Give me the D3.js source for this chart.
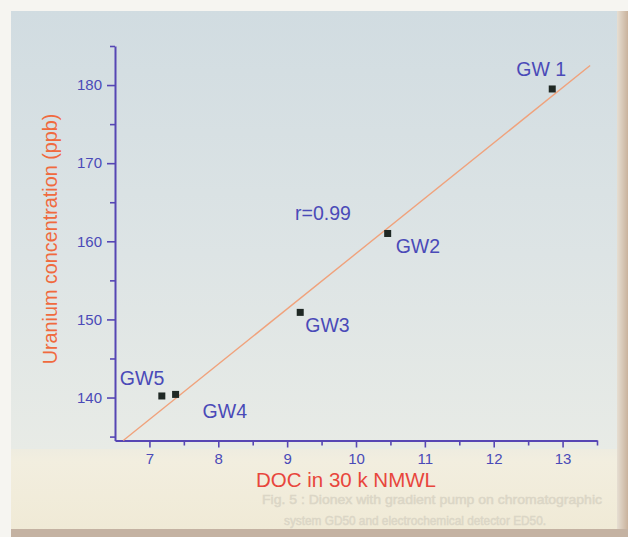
<!DOCTYPE html>
<html>
<head>
<meta charset="utf-8">
<script src="https://cdn.jsdelivr.net/npm/d3@7/dist/d3.min.js"></script>
<style>
  html, body { margin: 0; padding: 0; background: #f4f1ea; }
  svg { display: block; }
  text { font-family: "Liberation Sans", Arial, sans-serif; }
</style>
</head>
<body>
<svg id="chart" width="628" height="537"></svg>
<script>
// Groundwater samples: DOC (30 k NMWL fraction) vs uranium concentration
const sampleNames = ["GW 1", "GW2", "GW3", "GW4", "GW5"];
const docValues = [12.85, 10.46, 9.19, 7.38, 7.18];
const uraniumValues = [179.5, 161.0, 150.9, 140.4, 140.2];

// Trend line end points (DOC, uranium)
const trendDoc = [6.62, 13.40];
const trendUranium = [134.5, 182.5];
const correlationLabel = "r=0.99";

// Axis ticks
const xMajorTicks = [7, 8, 9, 10, 11, 12, 13];
const xMinorTicks = [7.5, 8.5, 9.5, 10.5, 11.5, 12.5, 13.5];
const yMajorTicks = [140, 150, 160, 170, 180];
const yMinorTicks = [135, 145, 155, 165, 175, 185];

const xTitle = "DOC in 30 k NMWL";
const yTitle = "Uranium concentration (ppb)";
const footnoteLines = [
  "Fig. 5 : Dionex with gradient pump on chromatographic",
  "system GD50 and electrochemical detector ED50."
];

const svg = d3.select("#chart");
const W = 628, H = 537;

// ---- page background ----
const defs = svg.append("defs");
const panelGrad = defs.append("linearGradient")
  .attr("id", "panelGrad").attr("x1", 0).attr("y1", 0).attr("x2", 0).attr("y2", 1);
panelGrad.append("stop").attr("offset", "0%").attr("stop-color", "#d1dce1");
panelGrad.append("stop").attr("offset", "55%").attr("stop-color", "#dde4e5");
panelGrad.append("stop").attr("offset", "100%").attr("stop-color", "#e8ebe6");

const edgeGrad = defs.append("linearGradient")
  .attr("id", "edgeGrad").attr("x1", 0).attr("y1", 0).attr("x2", 1).attr("y2", 0);
edgeGrad.append("stop").attr("offset", "0%").attr("stop-color", "#e6ded2");
edgeGrad.append("stop").attr("offset", "100%").attr("stop-color", "#c9b29c");

const bottomGrad = defs.append("linearGradient")
  .attr("id", "bottomGrad").attr("x1", 0).attr("y1", 0).attr("x2", 0).attr("y2", 1);
bottomGrad.append("stop").attr("offset", "0%").attr("stop-color", "#eeece0");
bottomGrad.append("stop").attr("offset", "15%").attr("stop-color", "#f2eedf");
bottomGrad.append("stop").attr("offset", "100%").attr("stop-color", "#f0ead6");

svg.append("rect").attr("width", W).attr("height", H).attr("fill", "#f6f5f1");
svg.append("rect").attr("x", 11).attr("y", 11).attr("width", W - 11).attr("height", 440)
  .attr("fill", "url(#panelGrad)");
svg.append("rect").attr("x", 11).attr("y", 449).attr("width", W - 11).attr("height", 81)
  .attr("fill", "url(#bottomGrad)");
svg.append("rect").attr("x", 617).attr("y", 11).attr("width", 11).attr("height", H - 11)
  .attr("fill", "url(#edgeGrad)");
svg.append("rect").attr("x", 11).attr("y", 529).attr("width", W - 11).attr("height", 8)
  .attr("fill", "#c4b2a2");

// faint print-through text in the lower band
const footX = [262, 284], footY = [504, 525], footLen = [340, 262];
svg.append("g").selectAll("text").data(footnoteLines).join("text")
  .attr("x", (d, i) => footX[i])
  .attr("y", (d, i) => footY[i])
  .attr("font-size", 13)
  .attr("textLength", (d, i) => footLen[i])
  .attr("lengthAdjust", "spacingAndGlyphs")
  .attr("fill", "#dbd6c6")
  .attr("stroke", "#dbd6c6")
  .attr("stroke-width", 0.5)
  .text(d => d);

// ---- scales ----
const x = d3.scaleLinear().domain([6.5, 13.5]).range([115, 597]);
const y = d3.scaleLinear().domain([134.5, 185]).range([440.5, 46]);

const axisColor = "#5646b4";
const tickTextColor = "#4a4ab8";

// ---- axes ----
function styleAxis(g) {
  g.select(".domain").attr("stroke", axisColor).attr("stroke-width", 2);
  g.selectAll(".tick line").attr("stroke", axisColor).attr("stroke-width", 1.6);
  g.selectAll(".tick text")
    .attr("fill", tickTextColor)
    .attr("font-size", 15)
    .attr("font-family", "'Liberation Sans', Arial, sans-serif");
}

const xAxisG = svg.append("g").attr("transform", `translate(0,${y(134.5)})`);
xAxisG.call(d3.axisBottom(x).tickValues(xMajorTicks).tickSize(7).tickSizeOuter(0)
  .tickPadding(6).tickFormat(d3.format("d")));
styleAxis(xAxisG);
const xMinorG = svg.append("g").attr("transform", `translate(0,${y(134.5)})`);
xMinorG.call(d3.axisBottom(x).tickValues(xMinorTicks).tickSize(5).tickFormat(""));
styleAxis(xMinorG);
xMinorG.select(".domain").remove();

const yAxisG = svg.append("g").attr("transform", `translate(${x(6.5)},0)`);
yAxisG.call(d3.axisLeft(y).tickValues(yMajorTicks).tickSize(8).tickSizeOuter(0)
  .tickPadding(5).tickFormat(d3.format("d")));
styleAxis(yAxisG);
const yMinorG = svg.append("g").attr("transform", `translate(${x(6.5)},0)`);
yMinorG.call(d3.axisLeft(y).tickValues(yMinorTicks).tickSize(5).tickFormat(""));
styleAxis(yMinorG);
yMinorG.select(".domain").remove();

// ---- axis titles ----
svg.append("text")
  .attr("x", 346)
  .attr("y", 487)
  .attr("text-anchor", "middle")
  .attr("font-size", 20.5)
  .attr("fill", "#e8463c")
  .text(xTitle);

svg.append("text")
  .attr("transform", "translate(57,239) rotate(-90)")
  .attr("text-anchor", "middle")
  .attr("font-size", 19.8)
  .attr("fill", "#f06a3e")
  .text(yTitle);

// ---- trend line ----
const trendPts = trendDoc.map((d, i) => [d, trendUranium[i]]);
svg.append("path")
  .datum(trendPts)
  .attr("d", d3.line().x(d => x(d[0])).y(d => y(d[1])))
  .attr("fill", "none")
  .attr("stroke", "#f0a27c")
  .attr("stroke-width", 1.4);

// ---- sample points ----
const samples = sampleNames.map((n, i) => ({ name: n, doc: docValues[i], u: uraniumValues[i] }));
const sq = 7;
svg.append("g").selectAll("rect").data(samples).join("rect")
  .attr("x", d => x(d.doc) - sq / 2)
  .attr("y", d => y(d.u) - sq / 2)
  .attr("width", sq).attr("height", sq)
  .attr("fill", "#1f2824");

// ---- point labels (offsets in px from each point) ----
const labelOffsets = {
  "GW 1": [-36, -13],
  "GW2": [8, 20],
  "GW3": [5, 20],
  "GW4": [27, 24],
  "GW5": [-42, -11]
};
svg.append("g").selectAll("text").data(samples).join("text")
  .attr("x", d => x(d.doc) + labelOffsets[d.name][0])
  .attr("y", d => y(d.u) + labelOffsets[d.name][1])
  .attr("font-size", 19.5)
  .attr("fill", "#4a4ab8")
  .text(d => d.name);

svg.append("text")
  .attr("x", 295).attr("y", 220)
  .attr("font-size", 19.5)
  .attr("fill", "#4a4ab8")
  .text(correlationLabel);
</script>
</body>
</html>
